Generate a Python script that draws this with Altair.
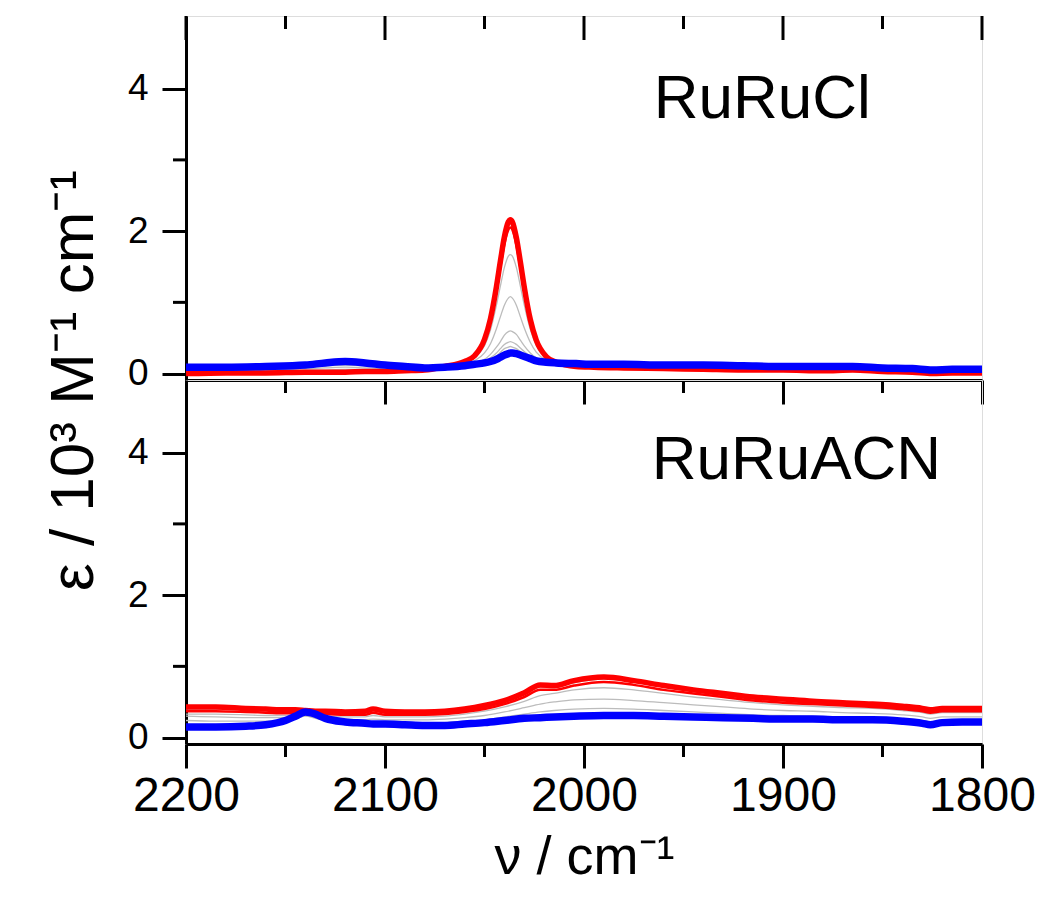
import altair as alt
import pandas as pd

# ---------------- data ----------------
wn_top = [2200, 2180, 2160, 2140, 2130, 2120, 2110, 2100, 2090, 2080, 2070, 2060, 2055,
          2050, 2047, 2044, 2042, 2040, 2038, 2037, 2036, 2034, 2032, 2030, 2027, 2024,
          2019, 2014, 2004, 1995, 1980, 1960, 1940, 1920, 1900, 1880, 1865, 1850, 1835,
          1825, 1815, 1800]

cl_red1 = [0.00, 0.01, 0.01, 0.02, 0.02, 0.02, 0.03, 0.03, 0.04, 0.05, 0.10, 0.17, 0.25,
           0.48, 0.77, 1.22, 1.58, 1.92, 2.13, 2.16, 2.13, 1.91, 1.57, 1.21, 0.76, 0.47,
           0.24, 0.16, 0.10, 0.09, 0.08, 0.07, 0.06, 0.05, 0.05, 0.04, 0.05, 0.03, 0.02,
           0.00, 0.01, 0.01]
cl_red2 = [0.01, 0.02, 0.02, 0.03, 0.03, 0.03, 0.03, 0.04, 0.04, 0.05, 0.10, 0.16, 0.24,
           0.46, 0.73, 1.16, 1.50, 1.82, 2.02, 2.05, 2.02, 1.81, 1.49, 1.15, 0.72, 0.45,
           0.23, 0.16, 0.10, 0.09, 0.08, 0.07, 0.06, 0.06, 0.05, 0.05, 0.05, 0.04, 0.03,
           0.01, 0.02, 0.02]
cl_gray_a = [0.02, 0.03, 0.03, 0.05, 0.05, 0.06, 0.06, 0.05, 0.05, 0.06, 0.10, 0.15, 0.22,
             0.39, 0.61, 0.96, 1.23, 1.49, 1.65, 1.67, 1.65, 1.49, 1.23, 0.96, 0.62, 0.40,
             0.22, 0.16, 0.11, 0.10, 0.09, 0.08, 0.07, 0.07, 0.06, 0.06, 0.06, 0.05, 0.04,
             0.02, 0.03, 0.02]
cl_gray_b = [0.04, 0.05, 0.05, 0.07, 0.08, 0.09, 0.08, 0.07, 0.07, 0.07, 0.09, 0.13, 0.18,
             0.29, 0.42, 0.63, 0.80, 0.96, 1.06, 1.08, 1.06, 0.96, 0.80, 0.64, 0.44, 0.30,
             0.19, 0.15, 0.12, 0.11, 0.10, 0.09, 0.09, 0.08, 0.07, 0.07, 0.07, 0.06, 0.05,
             0.03, 0.04, 0.04]
cl_gray_c = [0.06, 0.07, 0.07, 0.09, 0.11, 0.12, 0.11, 0.09, 0.08, 0.07, 0.09, 0.12, 0.15,
             0.20, 0.27, 0.37, 0.45, 0.54, 0.59, 0.60, 0.59, 0.55, 0.47, 0.39, 0.29, 0.22,
             0.17, 0.15, 0.13, 0.12, 0.11, 0.10, 0.10, 0.09, 0.08, 0.08, 0.08, 0.07, 0.06,
             0.04, 0.05, 0.05]
cl_gray_d = [0.07, 0.08, 0.08, 0.10, 0.12, 0.14, 0.12, 0.10, 0.09, 0.07, 0.09, 0.11, 0.14,
             0.18, 0.22, 0.29, 0.35, 0.41, 0.44, 0.45, 0.44, 0.41, 0.36, 0.31, 0.24, 0.19,
             0.16, 0.15, 0.13, 0.12, 0.12, 0.11, 0.11, 0.10, 0.09, 0.09, 0.09, 0.07, 0.06,
             0.04, 0.05, 0.05]
cl_gray_e = [0.08, 0.08, 0.09, 0.11, 0.13, 0.15, 0.13, 0.11, 0.09, 0.08, 0.09, 0.11, 0.13,
             0.16, 0.20, 0.25, 0.30, 0.35, 0.37, 0.38, 0.37, 0.35, 0.31, 0.27, 0.22, 0.18,
             0.16, 0.15, 0.14, 0.13, 0.12, 0.11, 0.11, 0.10, 0.10, 0.09, 0.09, 0.08, 0.07,
             0.05, 0.05, 0.06]
cl_blue = [0.09, 0.09, 0.10, 0.12, 0.15, 0.17, 0.15, 0.12, 0.10, 0.08, 0.09, 0.11, 0.13,
           0.15, 0.17, 0.20, 0.23, 0.26, 0.28, 0.29, 0.29, 0.28, 0.26, 0.24, 0.21, 0.18,
           0.16, 0.15, 0.14, 0.13, 0.13, 0.12, 0.12, 0.11, 0.10, 0.10, 0.10, 0.08, 0.07,
           0.05, 0.06, 0.06]

wn_bot = [2200, 2185, 2170, 2160, 2150, 2145, 2140, 2135, 2130, 2120, 2110, 2106, 2100,
          2090, 2080, 2070, 2060, 2050, 2040, 2030, 2022, 2015, 2005, 1990, 1975, 1960,
          1945, 1930, 1915, 1900, 1885, 1870, 1855, 1840, 1830, 1826, 1820, 1810, 1800]

acn_red1 = [0.43, 0.43, 0.41, 0.40, 0.39, 0.39, 0.38, 0.37, 0.37, 0.36, 0.37, 0.40, 0.37,
            0.36, 0.36, 0.37, 0.40, 0.45, 0.52, 0.63, 0.74, 0.73, 0.80, 0.85, 0.80, 0.73,
            0.67, 0.62, 0.57, 0.54, 0.51, 0.49, 0.47, 0.44, 0.41, 0.39, 0.41, 0.41, 0.41]
acn_red2 = [0.37, 0.37, 0.36, 0.35, 0.34, 0.34, 0.33, 0.33, 0.33, 0.32, 0.32, 0.35, 0.32,
            0.32, 0.32, 0.33, 0.36, 0.40, 0.47, 0.57, 0.67, 0.67, 0.73, 0.78, 0.74, 0.67,
            0.62, 0.57, 0.52, 0.49, 0.47, 0.45, 0.43, 0.40, 0.37, 0.35, 0.37, 0.37, 0.37]
acn_gray_a = [0.40, 0.40, 0.39, 0.38, 0.37, 0.37, 0.36, 0.36, 0.35, 0.35, 0.35, 0.38, 0.35,
              0.34, 0.34, 0.35, 0.38, 0.43, 0.50, 0.60, 0.71, 0.70, 0.77, 0.82, 0.78, 0.71,
              0.65, 0.60, 0.55, 0.52, 0.50, 0.48, 0.46, 0.43, 0.40, 0.38, 0.40, 0.40, 0.40]
acn_gray_b = [0.33, 0.33, 0.32, 0.31, 0.31, 0.31, 0.32, 0.31, 0.30, 0.29, 0.29, 0.31, 0.29,
              0.29, 0.29, 0.30, 0.33, 0.37, 0.43, 0.51, 0.59, 0.62, 0.67, 0.70, 0.67, 0.62,
              0.57, 0.53, 0.49, 0.46, 0.44, 0.42, 0.41, 0.38, 0.35, 0.33, 0.35, 0.35, 0.35]
acn_gray_c = [0.30, 0.29, 0.28, 0.28, 0.28, 0.29, 0.31, 0.29, 0.27, 0.26, 0.25, 0.26, 0.25,
              0.25, 0.25, 0.26, 0.28, 0.31, 0.36, 0.42, 0.47, 0.50, 0.53, 0.54, 0.52, 0.49,
              0.46, 0.43, 0.40, 0.38, 0.37, 0.35, 0.34, 0.32, 0.29, 0.27, 0.29, 0.29, 0.29]
acn_gray_d = [0.24, 0.23, 0.23, 0.23, 0.24, 0.26, 0.30, 0.27, 0.24, 0.22, 0.21, 0.21, 0.21,
              0.20, 0.20, 0.21, 0.23, 0.25, 0.29, 0.33, 0.36, 0.38, 0.40, 0.41, 0.40, 0.38,
              0.36, 0.34, 0.32, 0.31, 0.30, 0.29, 0.28, 0.27, 0.24, 0.22, 0.24, 0.25, 0.25]
acn_blue = [0.15, 0.15, 0.16, 0.18, 0.24, 0.30, 0.36, 0.33, 0.27, 0.22, 0.20, 0.19, 0.19,
            0.18, 0.17, 0.17, 0.19, 0.21, 0.24, 0.27, 0.28, 0.29, 0.30, 0.31, 0.31, 0.30,
            0.29, 0.28, 0.27, 0.26, 0.26, 0.25, 0.25, 0.23, 0.20, 0.18, 0.21, 0.22, 0.22]

x_major = [2200, 2100, 2000, 1900, 1800]
x_minor = [2150, 2050, 1950, 1850]
y_major = [0, 2, 4]
y_minor = [1, 3]

# ---------------- layout constants ----------------
W, H = 796, 364
FONT = "Liberation Sans"
MAJ, MIN = 24, 13
LW = 3


def long_df(wn, series):
    rows = []
    for name, vals in series.items():
        for w, v in zip(wn, vals):
            rows.append({"wn": w, "eps": v, "curve": name})
    return pd.DataFrame(rows)


xscale = alt.Scale(domain=[1800, 2200], reverse=True, nice=False, zero=False)
yscale = alt.Scale(domain=[-0.09, 5.02], nice=False, zero=False)


def panel(wn, reds1, reds2, grays, blue, label, label_x, label_y, bottom):
    gray_df = long_df(wn, grays)
    r1 = pd.DataFrame({"wn": wn, "eps": reds1})
    r2 = pd.DataFrame({"wn": wn, "eps": reds2})
    bl = pd.DataFrame({"wn": wn, "eps": blue})

    yaxis_common = dict(values=y_major, tickSize=MAJ, tickWidth=LW, tickColor="black",
                        domainColor="black", domainWidth=LW, labelFontSize=37,
                        labelFont=FONT, labelColor="black", labelPadding=14,
                        grid=False, format="d", labelFlush=False)
    if bottom:
        xaxis = alt.Axis(values=x_major, tickSize=MAJ, tickWidth=LW, tickColor="black",
                         domainColor="black", domainWidth=LW, labelFontSize=48,
                         labelFont=FONT, labelColor="black", labelPadding=4,
                         labelFlush=False, labelOverlap=False,
                         title="ν / cm⁻¹", titleFont=FONT, titleFontSize=54,
                         titleFontWeight="normal", titleColor="black", titlePadding=10,
                         grid=False, format="d")
        yaxis = alt.Axis(title=None, **yaxis_common)
    else:
        xaxis = alt.Axis(values=x_major, tickSize=MAJ, tickWidth=LW, tickColor="black",
                         domainColor="black", domainWidth=LW, labels=False,
                         title=None, grid=False)
        yaxis = alt.Axis(title="ε / 10³ M⁻¹ cm⁻¹", titleFont=FONT, titleFontSize=62,
                         titleFontWeight="normal", titleColor="black",
                         titleAngle=270, titleAlign="center", titleBaseline="alphabetic",
                         titleX=-94, titleY=H, **yaxis_common)

    X = alt.X("wn:Q", scale=xscale, axis=xaxis)
    Y = alt.Y("eps:Q", scale=yscale, axis=yaxis)

    gray = alt.Chart(gray_df).mark_line(color="#bcbcbc", strokeWidth=1.3,
                                        interpolate="monotone").encode(
        x=X, y=Y, detail="curve:N")
    red2 = alt.Chart(r2).mark_line(color="#ff0000", strokeWidth=2.5,
                                   interpolate="monotone").encode(x="wn:Q", y="eps:Q")
    red1 = alt.Chart(r1).mark_line(color="#ff0000", strokeWidth=5.5,
                                   interpolate="monotone").encode(x="wn:Q", y="eps:Q")
    blue_l = alt.Chart(bl).mark_line(color="#0000ff", strokeWidth=7.5,
                                     interpolate="monotone").encode(x="wn:Q", y="eps:Q")

    # minor ticks and inward frame ticks
    xmin_df = pd.DataFrame({"wn": x_minor})
    xmaj_df = pd.DataFrame({"wn": x_major})
    ymin_df = pd.DataFrame({"eps": y_minor})
    layers = [gray, red2, red1, blue_l]
    layers.append(alt.Chart(xmin_df).mark_rule(color="black", strokeWidth=LW).encode(
        x="wn:Q", y=alt.value(H), y2=alt.value(H + MIN)))
    layers.append(alt.Chart(ymin_df).mark_rule(color="black", strokeWidth=LW).encode(
        y="eps:Q", x=alt.value(-MIN), x2=alt.value(0)))
    if not bottom:
        layers.append(alt.Chart(xmaj_df).mark_rule(color="black", strokeWidth=LW).encode(
            x="wn:Q", y=alt.value(0), y2=alt.value(MAJ)))
        layers.append(alt.Chart(xmin_df).mark_rule(color="black", strokeWidth=LW).encode(
            x="wn:Q", y=alt.value(0), y2=alt.value(MIN)))
    txt = pd.DataFrame({"wn": [label_x], "eps": [label_y], "t": [label]})
    layers.append(alt.Chart(txt).mark_text(font=FONT, fontSize=62, align="left",
                                           baseline="alphabetic", color="black").encode(
        x="wn:Q", y="eps:Q", text="t:N"))
    return alt.layer(*layers).properties(width=W, height=H)


top = panel(wn_top, cl_red1, cl_red2,
            {"a": cl_gray_a, "b": cl_gray_b, "c": cl_gray_c, "d": cl_gray_d, "e": cl_gray_e},
            cl_blue, "RuRuCl", 1965, 3.59, bottom=False)
bot = panel(wn_bot, acn_red1, acn_red2,
            {"a": acn_gray_a, "b": acn_gray_b, "c": acn_gray_c, "d": acn_gray_d},
            acn_blue, "RuRuACN", 1966, 3.63, bottom=True)

chart = alt.vconcat(top, bot, spacing=0, bounds="flush").properties(
    padding={"left": 33, "top": 6, "right": 0, "bottom": 0}
).configure_view(stroke="black", strokeWidth=LW).configure(background="white")

chart.save("out.html", embed_options={"renderer": "svg", "actions": False})
